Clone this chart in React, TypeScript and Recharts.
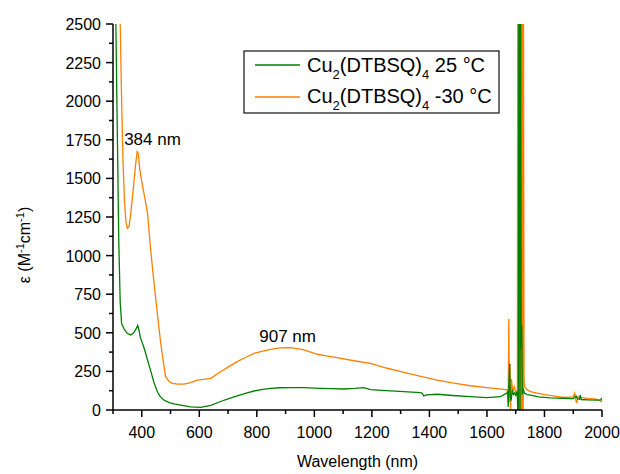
import React from "react";
import {
  Customized,
  Line,
  LineChart,
  ReferenceDot,
  XAxis,
  YAxis,
} from "recharts";

// espectro a 25 °C  [longitud de onda nm, epsilon]
const verde25: [number, number][] = [
  [305, 2900], [310, 2500], [315, 1800], [320, 1100], [325, 700], [330, 560],
  [340, 520], [350, 495], [362, 486], [372, 500], [380, 525], [386, 548],
  [390, 520], [395, 470], [402, 434], [410, 390], [420, 324], [430, 260],
  [443, 175], [455, 115], [465, 85], [477, 65], [495, 48], [512, 39],
  [540, 30], [570, 20], [605, 17], [640, 30], [674, 55], [700, 72],
  [732, 91], [760, 108], [790, 123], [820, 133], [848, 140], [880, 144],
  [917, 145], [964, 145], [1022, 140], [1060, 138], [1102, 136], [1140, 140],
  [1172, 145], [1195, 132], [1250, 126], [1311, 119], [1369, 112], [1375, 108],
  [1380, 91], [1390, 98], [1427, 102], [1480, 94], [1542, 86], [1600, 80],
  [1646, 86], [1664, 104], [1670, 110], [1672, 120], [1674, 20], [1676, 150],
  [1679, 300], [1681, 90], [1684, 60], [1688, 130], [1692, 100], [1696, 110],
  [1700, 95], [1705, 120], [1709, -100], [1711, 2800], [1713, 2800], [1715, -100],
  [1717, 2800], [1719, 400], [1721, 550], [1723, 100], [1726, 140], [1730, 110],
  [1740, 100], [1751, 97], [1780, 85], [1820, 78], [1866, 76], [1900, 74],
  [1910, 90], [1915, 72], [1922, 70], [1924, 97], [1928, 68], [1950, 66],
  [1980, 64], [1995, 66], [2000, 78],
];

// espectro a -30 °C
const naranja30: [number, number][] = [
  [318, 2900], [325, 2500], [330, 2000], [335, 1600], [340, 1350], [345, 1220],
  [350, 1177], [356, 1190], [362, 1280], [370, 1420], [378, 1580], [384, 1673],
  [388, 1660], [393, 1560], [402, 1457], [410, 1380], [420, 1274], [431, 1036],
  [440, 870], [449, 712], [458, 560], [466, 432], [475, 310], [483, 216],
  [495, 185], [506, 173], [525, 168], [547, 168], [570, 178], [593, 194],
  [615, 198], [640, 205], [674, 248], [700, 278], [732, 313], [760, 340],
  [790, 367], [820, 382], [848, 393], [880, 402], [917, 404], [940, 398],
  [964, 389], [1010, 361], [1040, 350], [1079, 339], [1137, 319], [1195, 302],
  [1250, 272], [1311, 244], [1370, 218], [1427, 194], [1480, 175], [1542, 157],
  [1600, 145], [1658, 134], [1670, 130], [1674, 80], [1676, 590], [1678, 50],
  [1680, 300], [1682, -20], [1685, 200], [1690, 120], [1695, 150], [1700, 110],
  [1706, 130], [1707, 2800], [1708, -200], [1709, 2800], [1711, -200], [1713, 2800],
  [1715, -200], [1717, 2800], [1719, -200], [1721, 2800], [1723, -200], [1725, 2800],
  [1726, -200], [1727, 2800], [1729, 200], [1731, 150], [1740, 130], [1751, 119],
  [1800, 100], [1866, 82], [1900, 85], [1905, 108], [1908, 70], [1912, 45],
  [1916, 85], [1930, 80], [1950, 75], [1980, 70], [1999, 54], [2000, 70],
];

const xTicks = Array.from({ length: 18 }, (_, i) => 300 + i * 100);
const yTicks = Array.from({ length: 21 }, (_, i) => i * 125);

const picos = [
  { x: 384, y: 1673, texto: "384 nm" },
  { x: 907, y: 404, texto: "907 nm" },
];

const toRows = (arr: [number, number][]) => arr.map(([x, y]) => ({ x, y }));

const VERDE = "#008000";
const NARANJA = "#ff8000";
const FUENTE = "'Liberation Sans', Arial, sans-serif";

const XTick = (props: any) => {
  const { x, y, payload } = props;
  const v = payload.value;
  const mayor = v % 200 === 0;
  return (
    <g>
      <line x1={x} x2={x} y1={y} y2={y + (mayor ? 7 : 4)} stroke="#000" strokeWidth={1.5} />
      {mayor && v >= 400 && (
        <text x={x} y={y + 28} textAnchor="middle" fontSize={16} fill="#000" fontFamily={FUENTE}>
          {v}
        </text>
      )}
    </g>
  );
};

const YTick = (props: any) => {
  const { x, y, payload } = props;
  const v = payload.value;
  const mayor = v % 250 === 0;
  return (
    <g>
      <line x1={x} x2={x - (mayor ? 7 : 4)} y1={y} y2={y} stroke="#000" strokeWidth={1.5} />
      {mayor && (
        <text x={x - 12} y={y + 6} textAnchor="end" fontSize={16} fill="#000" fontFamily={FUENTE}>
          {v}
        </text>
      )}
    </g>
  );
};

const TituloY = () => (
  <text
    x={0}
    y={0}
    transform="translate(30,245) rotate(-90)"
    textAnchor="middle"
    fontSize={16}
    fill="#000"
    fontFamily={FUENTE}
  >
    ε (M
    <tspan dy={-6} fontSize={11}>-1</tspan>
    <tspan dy={6}>cm</tspan>
    <tspan dy={-6} fontSize={11}>-1</tspan>
    <tspan dy={6}>)</tspan>
  </text>
);

const Leyenda = () => {
  const filas = [
    { color: VERDE, temp: " 25 °C" },
    { color: NARANJA, temp: " -30 °C" },
  ];
  return (
    <g fontFamily={FUENTE}>
      <rect x={244} y={51} width={255} height={62} fill="#fff" stroke="#222" strokeWidth={1.3} />
      {filas.map((f, i) => (
        <g key={i}>
          <line x1={255} x2={300} y1={65 + i * 32} y2={65 + i * 32} stroke={f.color} strokeWidth={1.3} />
          <text x={307} y={72 + i * 31} fontSize={20} fill="#000">
            Cu
            <tspan dy={7} fontSize={13}>2</tspan>
            <tspan dy={-7}>(DTBSQ)</tspan>
            <tspan dy={7} fontSize={13}>4</tspan>
            <tspan dy={-7}>{f.temp}</tspan>
          </text>
        </g>
      ))}
    </g>
  );
};

export default function App() {
  return (
    <div style={{ position: "absolute", left: 0, top: 0, background: "#fff" }}>
      <LineChart width={620} height={474} margin={{ top: 24, right: 18, left: 0, bottom: 0 }}>
        <XAxis
          dataKey="x"
          type="number"
          domain={[300, 2000]}
          ticks={xTicks}
          interval={0}
          allowDataOverflow
          height={64}
          tickSize={0}
          tickMargin={0}
          tick={<XTick />}
          axisLine={{ stroke: "#000", strokeWidth: 1.5 }}
          label={{
            value: "Wavelength (nm)",
            position: "insideBottom",
            offset: 7,
            style: { fontSize: 16, fill: "#000", fontFamily: FUENTE },
          }}
        />
        <YAxis
          type="number"
          domain={[0, 2500]}
          ticks={yTicks}
          interval={0}
          allowDataOverflow
          width={113}
          tickSize={0}
          tickMargin={0}
          tick={<YTick />}
          axisLine={{ stroke: "#000", strokeWidth: 1.5 }}
        />
        <Line
          data={toRows(naranja30)}
          dataKey="y"
          stroke={NARANJA}
          strokeWidth={1.3}
          dot={false}
          isAnimationActive={false}
        />
        <Line
          data={toRows(verde25)}
          dataKey="y"
          stroke={VERDE}
          strokeWidth={1.3}
          dot={false}
          isAnimationActive={false}
        />
        {picos.map((p, i) => (
          <ReferenceDot
            key={i}
            x={p.x}
            y={p.y}
            r={0}
            fill="none"
            stroke="none"
            label={(lp: any) => {
              const cx = lp.viewBox.x;
              const cy = lp.viewBox.y;
              return i === 0 ? (
                <text x={cx - 13} y={cy - 7} fontSize={17} fill="#000" fontFamily={FUENTE}>
                  {p.texto}
                </text>
              ) : (
                <text x={cx} y={cy - 6} textAnchor="middle" fontSize={17} fill="#000" fontFamily={FUENTE}>
                  {p.texto}
                </text>
              );
            }}
          />
        ))}
        <Customized component={TituloY} />
        <Customized component={Leyenda} />
      </LineChart>
    </div>
  );
}
